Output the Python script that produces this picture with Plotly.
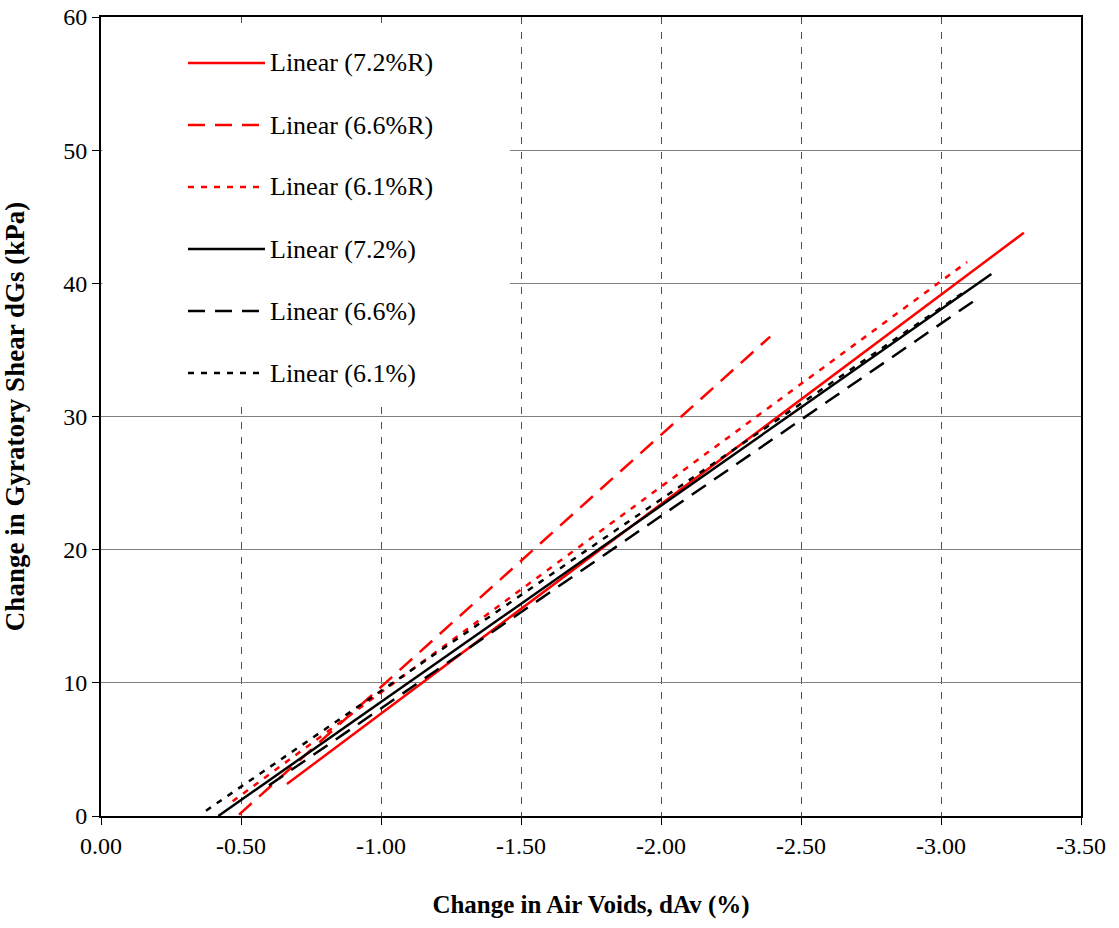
import plotly.graph_objects as go

# Linear trend lines: change in air voids (x) vs change in gyratory shear (y)
series_names = ["Linear (7.2%R)", "Linear (6.6%R)", "Linear (6.1%R)",
                "Linear (7.2%)", "Linear (6.6%)", "Linear (6.1%)"]
x_start = [-0.664, -0.493, -0.470, -0.419, -0.600, -0.375]
y_start = [2.4, 0.1, 1.1, 0.0, 2.3, 0.4]
x_end = [-3.296, -2.390, -3.093, -3.180, -3.140, -3.093]
y_end = [43.8, 36.0, 41.6, 40.7, 39.0, 39.5]

x_tick_vals = [0, -0.5, -1.0, -1.5, -2.0, -2.5, -3.0, -3.5]
x_tick_text = ["0.00", "-0.50", "-1.00", "-1.50", "-2.00", "-2.50", "-3.00", "-3.50"]
y_tick_vals = [0, 10, 20, 30, 40, 50, 60]

colors = ["#FF0000", "#FF0000", "#FF0000", "#000000", "#000000", "#000000"]
dashes = ["solid", "17px,10px", "6px,7px", "solid", "17px,10px", "6px,7px"]

SERIF = "Liberation Serif, Times New Roman, serif"

fig = go.Figure()
for i, name in enumerate(series_names):
    fig.add_trace(go.Scatter(
        x=[x_start[i], x_end[i]], y=[y_start[i], y_end[i]],
        mode="lines", name=name, showlegend=False,
        line=dict(color=colors[i], width=2.5, dash=dashes[i]),
    ))

# Plot area geometry (pixels) used to place the legend panel
W, H = 1119, 928
ML, MR, MT, MB = 101, 38, 17, 112
PW, PH = W - ML - MR, H - MT - MB


def px_x(p):
    return (p - ML) / PW


def px_y(p):
    return (H - MB - p) / PH


shapes = [
    # white legend panel hiding the grid behind it
    dict(type="rect", xref="paper", yref="paper", layer="above",
         x0=px_x(ML + 1.5), x1=px_x(510), y0=px_y(403), y1=px_y(MT + 6),
         fillcolor="white", line=dict(width=0)),
]
annotations = []
legend_rows = [63, 125, 187, 249, 311, 373]
for i, name in enumerate(series_names):
    yy = px_y(legend_rows[i])
    shapes.append(dict(type="line", xref="paper", yref="paper", layer="above",
                       x0=px_x(188), x1=px_x(265), y0=yy, y1=yy,
                       line=dict(color=colors[i], width=2.5, dash=dashes[i])))
    annotations.append(dict(xref="paper", yref="paper", x=px_x(268), y=yy,
                            xanchor="left", yanchor="middle", showarrow=False,
                            text=name, font=dict(family=SERIF, size=26, color="black")))

fig.update_layout(
    width=W, height=H,
    margin=dict(l=ML, r=MR, t=MT, b=MB, autoexpand=False),
    paper_bgcolor="white", plot_bgcolor="white",
    showlegend=False,
    shapes=shapes, annotations=annotations,
    font=dict(family=SERIF, size=24, color="black"),
)

fig.update_xaxes(
    range=[0, -3.5], tickvals=x_tick_vals, ticktext=x_tick_text,
    showgrid=True, gridcolor="#505050", gridwidth=1, griddash="7px,8px",
    zeroline=False, showline=True, linecolor="black", linewidth=2, mirror=True,
    ticks="outside", ticklen=7, tickcolor="black",
    tickfont=dict(family=SERIF, size=24),
    title=dict(text="<b>Change in Air Voids, dAv (%)</b>",
               font=dict(family=SERIF, size=25), standoff=38),
    automargin=False,
)
fig.update_yaxes(
    range=[0, 60], tickvals=y_tick_vals,
    showgrid=True, gridcolor="#808080", gridwidth=1,
    zeroline=False, showline=True, linecolor="black", linewidth=2, mirror=True,
    ticks="outside", ticklen=7, tickcolor="black",
    tickfont=dict(family=SERIF, size=24),
    title=dict(text="<b>Change in Gyratory Shear dGs (kPa)</b>",
               font=dict(family=SERIF, size=27), standoff=36),
    automargin=False,
)

fig.write_html("out.html")
